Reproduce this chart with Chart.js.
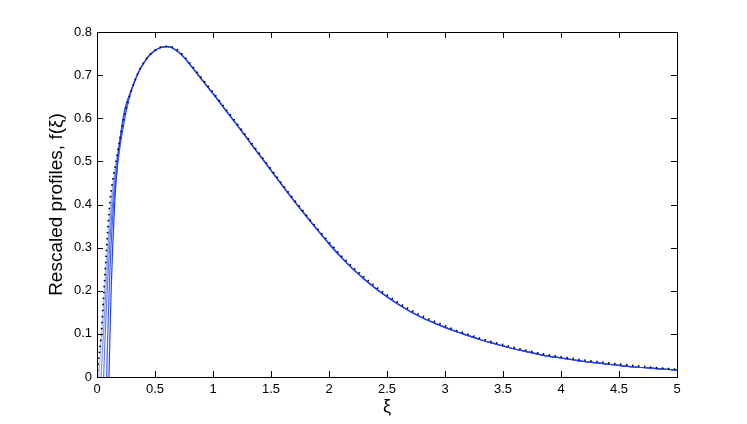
<!DOCTYPE html>
<html>
<head>
<meta charset="utf-8">
<script src="https://cdn.jsdelivr.net/npm/chart.js@4"></script>
<style>
  html, body { margin: 0; padding: 0; background: #fff; }
  #wrap { width: 747px; height: 424px; }
</style>
</head>
<body>
<div id="wrap"><canvas id="profiles" width="747" height="424"></canvas></div>
<script>
'use strict';
// shared part of the blue curves, from xi = 0.3 on
const xiTail = [0.3, 0.35, 0.4, 0.45, 0.5, 0.55, 0.6, 0.65, 0.7, 0.75, 0.8, 0.85, 0.9, 0.95,
    1.0, 1.1, 1.2, 1.3, 1.4, 1.5, 1.6, 1.7, 1.8, 1.9,
    2.0, 2.1, 2.2, 2.3, 2.4, 2.5, 2.6, 2.7, 2.8, 2.9,
    3.0, 3.1, 3.2, 3.3, 3.4, 3.5, 3.6, 3.7, 3.8, 3.9,
    4.0, 4.1, 4.2, 4.3, 4.4, 4.5, 4.6, 4.7, 4.8, 4.9, 5.0];
const fTail = [0.668, 0.702, 0.727, 0.745, 0.757, 0.764, 0.766, 0.763, 0.754, 0.741, 0.725, 0.708, 0.691, 0.674,
    0.657, 0.622, 0.587, 0.551, 0.515, 0.479, 0.443, 0.408, 0.374, 0.341,
    0.309, 0.279, 0.252, 0.228, 0.206, 0.186, 0.168, 0.152, 0.138, 0.126,
    0.115, 0.105, 0.096, 0.087, 0.079, 0.072, 0.065, 0.059, 0.053, 0.048,
    0.044, 0.040, 0.036, 0.033, 0.030, 0.027, 0.024, 0.022, 0.020, 0.018, 0.016];

// the start of each blue profile near the origin
const headLevels = [0, 0.1, 0.2, 0.3, 0.4, 0.5, 0.6, 0.638];
const xiHead1 = [0.015, 0.040, 0.065, 0.090, 0.118, 0.165, 0.232, 0.265];
const xiHead2 = [0.035, 0.055, 0.076, 0.098, 0.125, 0.170, 0.235, 0.267];
const xiHead3 = [0.057, 0.071, 0.088, 0.108, 0.134, 0.175, 0.237, 0.268];
const xiHead4 = [0.083, 0.093, 0.105, 0.120, 0.143, 0.181, 0.240, 0.270];
const xiHead5 = [0.103, 0.112, 0.122, 0.135, 0.152, 0.178, 0.210, 0.235, 0.260];
const fHead5 = [0, 0.1, 0.2, 0.3, 0.4, 0.5, 0.575, 0.615, 0.640];
const blueShades = ['#a9b9ff', '#8499ff', '#5f7bff', '#3f5fff', '#2340f5'];

// black dotted reference profile
const xiRef = [0, 0.01, 0.02, 0.037, 0.06, 0.083, 0.109, 0.135, 0.165, 0.2, 0.232, 0.265,
    0.3, 0.35, 0.4, 0.45, 0.5, 0.55, 0.6, 0.65, 0.7, 0.75, 0.8, 0.85, 0.9, 0.95,
    1.0, 1.1, 1.2, 1.3, 1.4, 1.5, 1.6, 1.7, 1.8, 1.9,
    2.0, 2.1, 2.2, 2.3, 2.4, 2.5, 2.6, 2.7, 2.8, 2.9,
    3.0, 3.1, 3.2, 3.3, 3.4, 3.5, 3.6, 3.7, 3.8, 3.9,
    4.0, 4.1, 4.2, 4.3, 4.4, 4.5, 4.6, 4.7, 4.8, 4.9, 5.0];
const fRef = [0, 0.03, 0.055, 0.1, 0.2, 0.3, 0.4, 0.455, 0.5, 0.555, 0.6, 0.637,
    0.667, 0.703, 0.728, 0.746, 0.758, 0.765, 0.767, 0.765, 0.757, 0.744, 0.728, 0.711, 0.694, 0.677,
    0.660, 0.625, 0.590, 0.554, 0.518, 0.482, 0.446, 0.411, 0.377, 0.344,
    0.313, 0.283, 0.256, 0.232, 0.210, 0.190, 0.172, 0.156, 0.142, 0.130,
    0.119, 0.108, 0.099, 0.090, 0.082, 0.075, 0.068, 0.062, 0.056, 0.051,
    0.047, 0.043, 0.039, 0.036, 0.033, 0.030, 0.027, 0.025, 0.022, 0.020, 0.018];

const xTicks = [0, 0.5, 1, 1.5, 2, 2.5, 3, 3.5, 4, 4.5, 5];
const yTicks = [0, 0.1, 0.2, 0.3, 0.4, 0.5, 0.6, 0.7, 0.8];

function toPoints(xs, ys) {
    const pts = [];
    for (let i = 0; i < xs.length; i++) {
        pts.push({ x: xs[i], y: ys[i] });
    }
    return pts;
}

const heads = [
    toPoints(xiHead1, headLevels),
    toPoints(xiHead2, headLevels),
    toPoints(xiHead3, headLevels),
    toPoints(xiHead4, headLevels),
    toPoints(xiHead5, fHead5),
];
const tailPts = toPoints(xiTail, fTail);

const datasets = [{
    data: toPoints(xiRef, fRef),
    borderColor: '#000',
    borderWidth: 1.7,
    borderDash: [1.5, 4.5],
    order: 0,
}];
for (let i = heads.length - 1; i >= 0; i--) {
    datasets.push({
        data: heads[i].concat(tailPts),
        borderColor: blueShades[i],
        borderWidth: 1.2,
        order: 1 + (heads.length - 1 - i),
    });
}

const tickFont = { family: 'Liberation Sans', size: 13 };

// MATLAB style box with inward ticks on all four sides
const axesBox = {
    id: 'axesBox',
    afterDraw: function (chart) {
        const ctx = chart.ctx;
        const a = chart.chartArea;
        const xs = chart.scales.x;
        const ys = chart.scales.y;
        const len = 6;
        ctx.save();
        ctx.strokeStyle = '#000';
        ctx.lineWidth = 1;
        ctx.beginPath();
        for (let i = 0; i < xTicks.length; i++) {
            const px = Math.round(xs.getPixelForValue(xTicks[i])) + 0.5;
            ctx.moveTo(px, a.bottom);
            ctx.lineTo(px, a.bottom - len);
            ctx.moveTo(px, a.top);
            ctx.lineTo(px, a.top + len);
        }
        for (let i = 0; i < yTicks.length; i++) {
            const py = Math.round(ys.getPixelForValue(yTicks[i])) + 0.5;
            ctx.moveTo(a.left, py);
            ctx.lineTo(a.left + len, py);
            ctx.moveTo(a.right, py);
            ctx.lineTo(a.right - len, py);
        }
        ctx.stroke();
        ctx.strokeRect(Math.round(a.left) + 0.5, Math.round(a.top) + 0.5,
            Math.round(a.right - a.left), Math.round(a.bottom - a.top));
        ctx.restore();
    }
};

new Chart(document.getElementById('profiles'), {
    type: 'scatter',
    data: { datasets: datasets },
    plugins: [axesBox],
    options: {
        responsive: false,
        animation: false,
        layout: { padding: { left: 0, top: 32, right: 70, bottom: 0 } },
        elements: {
            point: { radius: 0, hoverRadius: 0 },
            line: { cubicInterpolationMode: 'monotone', fill: false }
        },
        datasets: { scatter: { showLine: true } },
        plugins: { legend: { display: false }, tooltip: { enabled: false } },
        scales: {
            x: {
                type: 'linear',
                min: 0,
                max: 5,
                afterBuildTicks: function (scale) {
                    scale.ticks = xTicks.map(v => ({ value: v }));
                },
                afterFit: function (scale) { scale.height = 47; },
                grid: { display: false, drawTicks: false },
                border: { display: false },
                ticks: {
                    color: '#000', font: tickFont, padding: 5, maxRotation: 0,
                    callback: function (value) { return String(value); }
                },
                title: {
                    display: true,
                    text: 'ξ',
                    color: '#000',
                    font: { family: 'Liberation Sans', size: 18 },
                    padding: { top: 0, bottom: 6 }
                }
            },
            y: {
                type: 'linear',
                min: 0,
                max: 0.8,
                afterBuildTicks: function (scale) {
                    scale.ticks = yTicks.map(v => ({ value: v }));
                },
                afterFit: function (scale) { scale.width = 97; },
                grid: { display: false, drawTicks: false },
                border: { display: false },
                ticks: {
                    color: '#000', font: tickFont, padding: 5,
                    callback: function (value) { return String(value); }
                },
                title: {
                    display: true,
                    text: 'Rescaled profiles, f(ξ)',
                    color: '#000',
                    font: { family: 'Liberation Sans', size: 19 },
                    padding: { top: 45, bottom: 0 }
                }
            }
        }
    }
});
</script>
</body>
</html>
